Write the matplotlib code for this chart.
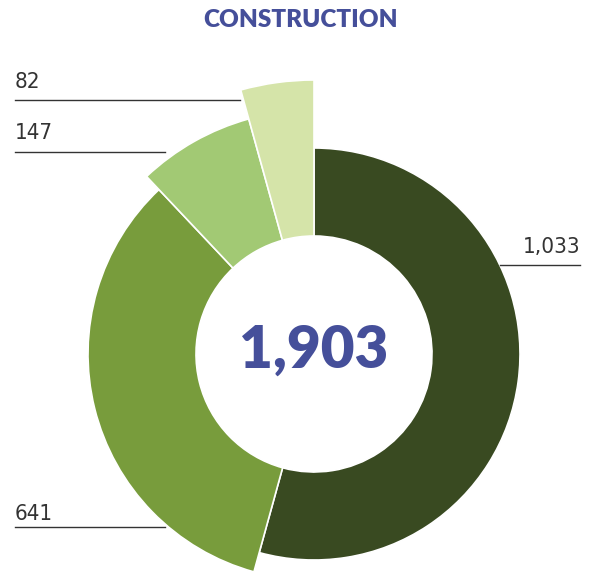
import matplotlib.pyplot as plt
from matplotlib.patches import Wedge

# data
values = [1033, 641, 147, 82]
labels = ["1,033", "641", "147", "82"]
colors = ["#394a21", "#789c3c", "#a2c974", "#d5e4a9"]
title = "CONSTRUCTION"
total_label = "1,903"

# layout (pixel units, y up)
W, H = 592, 572
cx, cy = 314, 572 - 354
r_in = 118
r_out = [206, 226, 244, 274]
# label line: (text x, text y, line x0, line x1, line y, ha)
label_pos = [
    (580, 572 - 247, 500, 580, 572 - 265, "right"),
    (15, 572 - 514, 15, 165, 572 - 527, "left"),
    (15, 572 - 133, 15, 165, 572 - 152, "left"),
    (15, 572 - 82, 15, 240, 572 - 100, "left"),
]

fig = plt.figure(figsize=(W / 100, H / 100), dpi=100)
ax = fig.add_axes([0, 0, 1, 1])
ax.set_xlim(0, W)
ax.set_ylim(0, H)
ax.axis("off")

total = sum(values)
start = 0.0
for v, r, c in zip(values, r_out, colors):
    span = 360.0 * v / total
    # clockwise from 12 o'clock
    t1 = 90 - start
    t0 = 90 - start - span
    ax.add_patch(Wedge((cx, cy), r, t0, t1, width=r - r_in,
                       facecolor=c, edgecolor="white", linewidth=1.2))
    start += span

for lab, (tx, ty, x0, x1, ly, ha) in zip(labels, label_pos):
    ax.plot([x0, x1], [ly, ly], color="#333333", linewidth=1)
    ax.text(tx, ty, lab, ha=ha, va="center", fontsize=16, color="#333333",
            family="DejaVu Sans", fontstretch="condensed")

ax.text(cx, cy + 4, total_label, ha="center", va="center", fontsize=42,
        fontweight="heavy", color="#454f9a", family=["Lato", "DejaVu Sans"])
ax.text(301, 572 - 20, title, ha="center", va="center", fontsize=17.5,
        fontweight="heavy", color="#454f9a", family=["Lato", "DejaVu Sans"])

fig.savefig("out.png", dpi=100)
